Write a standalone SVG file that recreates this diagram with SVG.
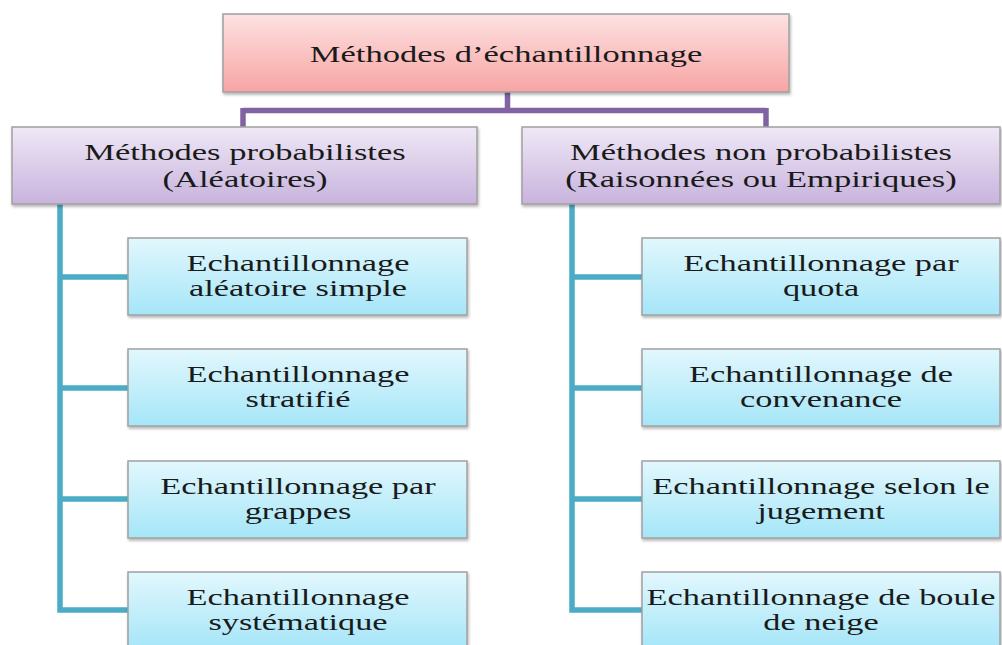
<svg xmlns="http://www.w3.org/2000/svg" width="1002" height="645" viewBox="0 0 1002 645">
<defs>
<linearGradient id="gPink" x1="0" y1="0" x2="0" y2="1"><stop offset="0" stop-color="#fde2e2"/><stop offset="1" stop-color="#f8a4a4"/></linearGradient>
<linearGradient id="gLav" x1="0" y1="0" x2="0" y2="1"><stop offset="0" stop-color="#efe8f6"/><stop offset="1" stop-color="#c8b3dd"/></linearGradient>
<linearGradient id="gBlue" x1="0" y1="0" x2="0" y2="1"><stop offset="0" stop-color="#e2f7fd"/><stop offset="1" stop-color="#a5e6f8"/></linearGradient>
<filter id="sh" x="-5%" y="-10%" width="110%" height="130%"><feDropShadow dx="1" dy="2" stdDeviation="1.5" flood-color="#000" flood-opacity="0.3"/></filter>
</defs>
<style>
.box{stroke:#a0a0a0;stroke-width:1.5;filter:url(#sh)}
.t{font-family:"Liberation Serif","DejaVu Serif",serif;font-size:24px;fill:#1a1a1a;text-anchor:middle}
.pl{fill:none;stroke:#8064a2;stroke-width:5.5}
.bl{fill:none;stroke:#4bacc6;stroke-width:5.5}
</style>
<rect width="1002" height="645" fill="#fff"/>
<g id="connectors">
<path class="pl" d="M507.5 92V110.5M243 110.5H766M243 108V127M766 108V127"/>
<path class="bl" d="M60 204V610H128M60 277H128M60 388H128M60 499H128"/>
<path class="bl" d="M572 204V610H642M572 277H642M572 388H642M572 499H642"/>
</g>
<g id="root"><rect class="box" x="223" y="14" width="566" height="78" fill="url(#gPink)"/><text class="t" transform="translate(506 62) scale(1.44 1)">Méthodes d’échantillonnage</text></g>
<g id="prob"><rect class="box" x="12" y="127" width="465" height="77" fill="url(#gLav)"/><text class="t" transform="translate(245 160) scale(1.44 1)">Méthodes probabilistes</text><text class="t" transform="translate(245 187) scale(1.44 1)">(Aléatoires)</text></g>
<g id="nonprob"><rect class="box" x="522" y="127" width="478" height="77" fill="url(#gLav)"/><text class="t" transform="translate(761 160) scale(1.44 1)">Méthodes non probabilistes</text><text class="t" transform="translate(761 187) scale(1.44 1)">(Raisonnées ou Empiriques)</text></g>
<g id="l1"><rect class="box" x="128" y="238" width="339" height="77" fill="url(#gBlue)"/><text class="t" transform="translate(298 271) scale(1.43 1)">Echantillonnage</text><text class="t" transform="translate(298 296) scale(1.43 1)">aléatoire simple</text></g>
<g id="l2"><rect class="box" x="128" y="349" width="339" height="77" fill="url(#gBlue)"/><text class="t" transform="translate(298 382) scale(1.43 1)">Echantillonnage</text><text class="t" transform="translate(298 407) scale(1.43 1)">stratifié</text></g>
<g id="l3"><rect class="box" x="128" y="461" width="339" height="77" fill="url(#gBlue)"/><text class="t" transform="translate(298 494) scale(1.43 1)">Echantillonnage par</text><text class="t" transform="translate(298 519) scale(1.43 1)">grappes</text></g>
<g id="l4"><rect class="box" x="128" y="572" width="339" height="77" fill="url(#gBlue)"/><text class="t" transform="translate(298 605) scale(1.43 1)">Echantillonnage</text><text class="t" transform="translate(298 630) scale(1.43 1)">systématique</text></g>
<g id="r1"><rect class="box" x="642" y="238" width="358" height="77" fill="url(#gBlue)"/><text class="t" transform="translate(821 271) scale(1.43 1)">Echantillonnage par</text><text class="t" transform="translate(821 296) scale(1.43 1)">quota</text></g>
<g id="r2"><rect class="box" x="642" y="349" width="358" height="77" fill="url(#gBlue)"/><text class="t" transform="translate(821 382) scale(1.43 1)">Echantillonnage de</text><text class="t" transform="translate(821 407) scale(1.43 1)">convenance</text></g>
<g id="r3"><rect class="box" x="642" y="461" width="358" height="77" fill="url(#gBlue)"/><text class="t" transform="translate(821 494) scale(1.43 1)">Echantillonnage selon le</text><text class="t" transform="translate(821 519) scale(1.43 1)">jugement</text></g>
<g id="r4"><rect class="box" x="642" y="572" width="358" height="77" fill="url(#gBlue)"/><text class="t" transform="translate(821 605) scale(1.43 1)">Echantillonnage de boule</text><text class="t" transform="translate(821 630) scale(1.43 1)">de neige</text></g>
</svg>
